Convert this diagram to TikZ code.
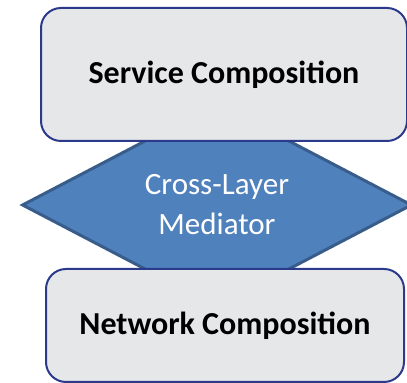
\documentclass[tikz,border=0pt]{standalone}
\usepackage{fontspec}
\setmainfont{Carlito}
\usetikzlibrary{shapes.geometric}
\definecolor{LayerFill}{RGB}{230,231,233}
\definecolor{LayerEdge}{RGB}{44,58,140}
\definecolor{MedFill}{RGB}{79,129,189}
\definecolor{MedEdge}{RGB}{56,93,138}

\begin{document}
\begin{tikzpicture}[x=0.5pt,y=-0.5pt]

\tikzset{
layer/.style={
draw=LayerEdge,
line width=1pt,
fill=LayerFill,
rounded corners=10pt,
inner sep=0pt,
font=\fontsize{16}{19}\selectfont\bfseries
},
mediator/.style={
diamond,
draw=MedEdge,
line width=1.5pt,
fill=MedFill,
text=white,
align=center,
inner sep=0pt,
font=\fontsize{15.5}{20}\selectfont
}
}

\useasboundingbox (0,0) rectangle (407,383);

% mediator sits behind the two layers
\node[mediator, minimum width=195pt, minimum height=90pt] (med) at (217,205)
{Cross-Layer\\Mediator};

\node[layer, minimum width=183pt, minimum height=66.5pt] (svc) at (224,74.5)
{Service Composition};

\node[layer, minimum width=179pt, minimum height=56.5pt] (net) at (225,325.5)
{Network Composition};

\end{tikzpicture}
\end{document}
